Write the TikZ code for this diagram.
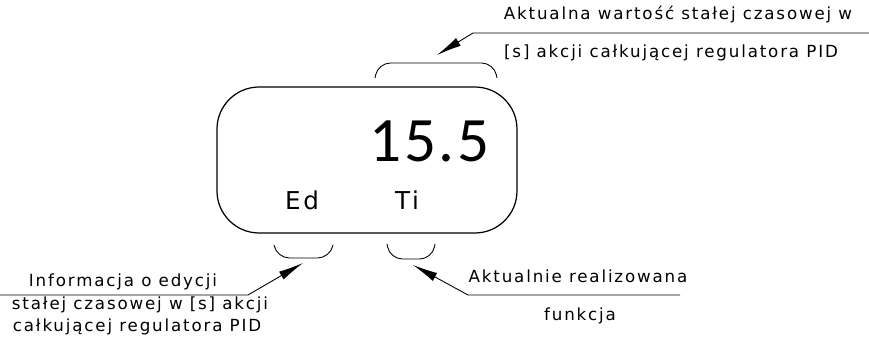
\documentclass[tikz,border=0pt]{standalone}
\usepackage{fontspec}
\newfontfamily\cadfont[LetterSpace=11]{DejaVu Sans}
\newfontfamily\thinfont[LetterSpace=4]{Carlito}
\usetikzlibrary{arrows.meta}

\begin{document}
\begin{tikzpicture}[x=0.02cm, y=-0.02cm, line width=0.5pt,
    lbl/.style={font=\cadfont\fontsize{9.5}{11}\selectfont, anchor=base, inner sep=0pt},
    disp/.style={font=\cadfont\fontsize{14}{16}\selectfont, anchor=base, inner sep=0pt},
    lead/.style={-{Latex[length=5mm, width=1.8mm]}},
    brace/.style={rounded corners=7pt}]
  \useasboundingbox (0,0) rectangle (869,344);
  \coordinate (box_nw) at (217,87);
  \coordinate (box_se) at (517,233);
  \coordinate (topend) at (869,33);
  \coordinate (topknee) at (473,33);
  \coordinate (toptip) at (437,55);
  \coordinate (leftend) at (0,295);
  \coordinate (leftknee) at (248,295);
  \coordinate (lefttip) at (303,263);
  \coordinate (rightend) at (680,295);
  \coordinate (rightknee) at (468,295);
  \coordinate (righttip) at (413,265);
  \draw[rounded corners=24pt, line width=0.7pt] (box_nw) rectangle (box_se);
  \node[font=\thinfont\fontsize{36}{40}\selectfont, anchor=base east, inner sep=0pt] (value) at (490,162) {15.5};
  \node[disp] (ed) at (302,210) {Ed};
  \node[disp] (ti) at (407,210) {Ti};
  \draw[brace] (375,78) -- (378,63) -- (494,63) -- (497,78);
  \draw[brace] (274,245) -- (277,258) -- (330,258) -- (333,245);
  \draw[brace] (387,244) -- (390,259) -- (432,259) -- (435,244);
  \draw[lead] (topend) to (topknee) to (toptip);
  \draw[lead] (leftend) to (leftknee) to (lefttip);
  \draw[lead] (rightend) to (rightknee) to (righttip);
  \node[lbl] (val1) at (678,20) {Aktualna wartość stałej czasowej w};
  \node[lbl] (val2) at (671,58) {[s] akcji całkującej regulatora PID};
  \node[lbl] (edit1) at (123,287) {Informacja o edycji};
  \node[lbl] (edit2) at (140,310) {stałej czasowej w [s] akcji};
  \node[lbl] (edit3) at (137,332) {całkującej regulatora PID};
  \node[lbl] (func1) at (578,283) {Aktualnie realizowana};
  \node[lbl] (func2) at (580,320) {funkcja};
\end{tikzpicture}
\end{document}
